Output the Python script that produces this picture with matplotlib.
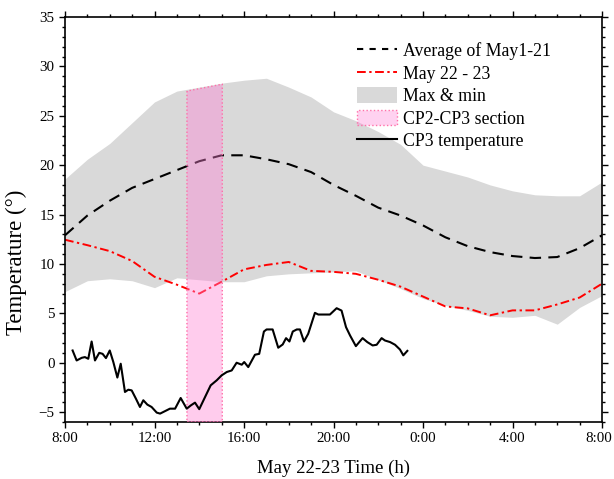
import matplotlib
matplotlib.use('Agg')
import matplotlib.pyplot as plt
from matplotlib.ticker import MultipleLocator, FixedLocator
from matplotlib.patches import Patch
from matplotlib.lines import Line2D
from matplotlib.transforms import ScaledTranslation

# ---------------- data ----------------
hours = list(range(8, 33))  # 8:00 May 22 -> 8:00 May 23
avg_may1_21 = [12.9, 14.9, 16.4, 17.7, 18.6, 19.5, 20.4, 21.0, 21.0, 20.6, 20.1, 19.3, 18.0,
               16.9, 15.7, 14.9, 13.9, 12.7, 11.8, 11.2, 10.8, 10.6, 10.7, 11.6, 12.9]
may22_23 = [12.45, 11.9, 11.3, 10.3, 8.7, 7.9, 7.0, 8.2, 9.45, 9.9, 10.2, 9.3, 9.2,
            9.0, 8.4, 7.7, 6.7, 5.7, 5.5, 4.8, 5.3, 5.3, 5.9, 6.6, 8.0]
max_vals = [18.6, 20.6, 22.2, 24.3, 26.4, 27.5, 27.9, 28.3, 28.6, 28.8, 27.9, 26.9, 25.4,
            24.5, 23.4, 22.1, 20.0, 19.4, 18.8, 18.0, 17.4, 17.0, 16.9, 16.9, 18.3]
min_vals = [7.2, 8.3, 8.5, 8.3, 7.6, 8.6, 8.4, 8.2, 8.2, 8.8, 9.0, 9.1, 9.2,
            9.3, 8.4, 7.5, 6.5, 5.8, 5.3, 4.7, 4.6, 4.8, 3.9, 5.6, 6.8]

section_x = [13.45, 15.03]      # CP2-CP3 section time window
section_top = [27.5, 28.2]

cp3_t = [8.34, 8.52, 8.75, 8.89, 9.04, 9.19, 9.34, 9.53, 9.68, 9.83, 10.00, 10.16, 10.34,
         10.49, 10.68, 10.83, 10.98, 11.17, 11.35, 11.50, 11.68, 11.87, 12.10, 12.25, 12.47,
         12.69, 12.92, 13.17, 13.44, 13.63, 13.81, 14.00, 14.26, 14.51, 14.78, 15.00, 15.23,
         15.45, 15.67, 15.90, 16.01, 16.19, 16.49, 16.68, 16.89, 17.01, 17.28, 17.53, 17.73,
         17.88, 18.03, 18.18, 18.36, 18.50, 18.68, 18.87, 19.17, 19.32, 19.54, 19.84, 20.14,
         20.36, 20.56, 20.74, 21.00, 21.30, 21.51, 21.75, 21.93, 22.15, 22.30, 22.53, 22.75,
         22.97, 23.12, 23.30]
cp3_v = [1.24, 0.23, 0.5, 0.57, 0.4, 2.15, 0.23, 1.0, 0.9, 0.47, 1.24, 0.07, -1.5,
         -0.1, -2.96, -2.73, -2.8, -3.64, -4.48, -3.8, -4.24, -4.48, -5.05, -5.15, -4.9,
         -4.65, -4.65, -3.57, -4.65, -4.31, -4.04, -4.7, -3.47, -2.29, -1.78, -1.28, -0.94,
         -0.78, 0.0, -0.2, 0.07, -0.44, 0.81, 0.9, 3.16, 3.37, 3.37, 1.52, 1.85,
         2.49, 2.15, 3.16, 3.37, 3.37, 2.15, 2.93, 5.05, 4.88, 4.88, 4.88, 5.52,
         5.28, 3.6, 2.76, 1.68, 2.49, 2.09, 1.75, 1.82, 2.49, 2.25, 2.09, 1.82,
         1.34, 0.75, 1.2]

xtick_pos = [8, 12, 16, 20, 24, 28, 32]
xtick_labels = ['8:00', '12:00', '16:00', '20:00', '0:00', '4:00', '8:00']
legend_labels = ['Average of May1-21', 'May 22 - 23', 'Max & min',
                 'CP2-CP3 section', 'CP3 temperature']

# ---------------- style ----------------
plt.rcParams['font.family'] = ['Liberation Serif', 'DejaVu Serif']

grey = '#d9d9d9'
pink_face = (1.0, 0.5, 0.83, 0.4)
pink_edge = '#ff6fa8'

fig = plt.figure(figsize=(6.14, 4.79), dpi=100)
ax = fig.add_axes([65 / 614, 1 - 422 / 479, 537 / 614, 405 / 479])

ax.fill_between(hours, min_vals, max_vals, color=grey, lw=0, zorder=1)
ax.plot(hours, avg_may1_21, color='black', lw=1.5, dashes=(5.5, 3.5), zorder=2)
ax.plot(hours, may22_23, color='red', lw=1.4, dashes=(4.5, 1.8, 1.2, 1.8), zorder=2)
ax.fill_between(section_x, -6, section_top, facecolor=pink_face, edgecolor=pink_edge,
                linestyle=':', lw=1.0, zorder=3)
ax.plot(cp3_t, cp3_v, color='black', lw=1.5, zorder=4)

ax.set_xlim(8, 32)
ax.set_ylim(-6, 35)
ax.xaxis.set_major_locator(FixedLocator(xtick_pos))
ax.set_xticklabels(xtick_labels)
ax.xaxis.set_minor_locator(MultipleLocator(1))
ax.yaxis.set_major_locator(MultipleLocator(5))
ax.yaxis.set_minor_locator(MultipleLocator(1))
ax.tick_params(which='both', direction='out', top=True, right=True,
               labeltop=False, labelright=False, width=1.0, labelsize=10.8, pad=3)
ax.tick_params(which='major', length=4.5)
ax.tick_params(which='minor', length=2.5)
for sp in ax.spines.values():
    sp.set_linewidth(1.2)

# keep the last "8:00" label inside the canvas
last_lbl = ax.xaxis.get_major_ticks()[-1].label1
last_lbl.set_transform(last_lbl.get_transform() + ScaledTranslation(-2.5 / 72, 0, fig.dpi_scale_trans))

ax.set_xlabel('May 22-23 Time (h)', fontsize=13.5, labelpad=10)
ax.set_ylabel('Temperature (°)', fontsize=16.5)
ax.yaxis.set_label_coords(-0.071, 0.395)

handles = [
    Line2D([], [], color='black', lw=1.5, dashes=(3.0, 3.0)),
    Line2D([], [], color='red', lw=1.4, dashes=(4.5, 1.8, 1.2, 1.8)),
    Patch(facecolor=grey, edgecolor='none'),
    Patch(facecolor=(1.0, 0.5, 0.83, 0.35), edgecolor=pink_edge, linestyle=':', lw=1.0),
    Line2D([], [], color='black', lw=1.5),
]
ax.legend(handles, legend_labels, loc='upper left', bbox_to_anchor=(0.544, 0.938),
          frameon=False, fontsize=12.8, handlelength=2.25, handleheight=1.0,
          handletextpad=0.35, labelspacing=0.25, borderpad=0, borderaxespad=0)

fig.savefig('out.png', dpi=100)
